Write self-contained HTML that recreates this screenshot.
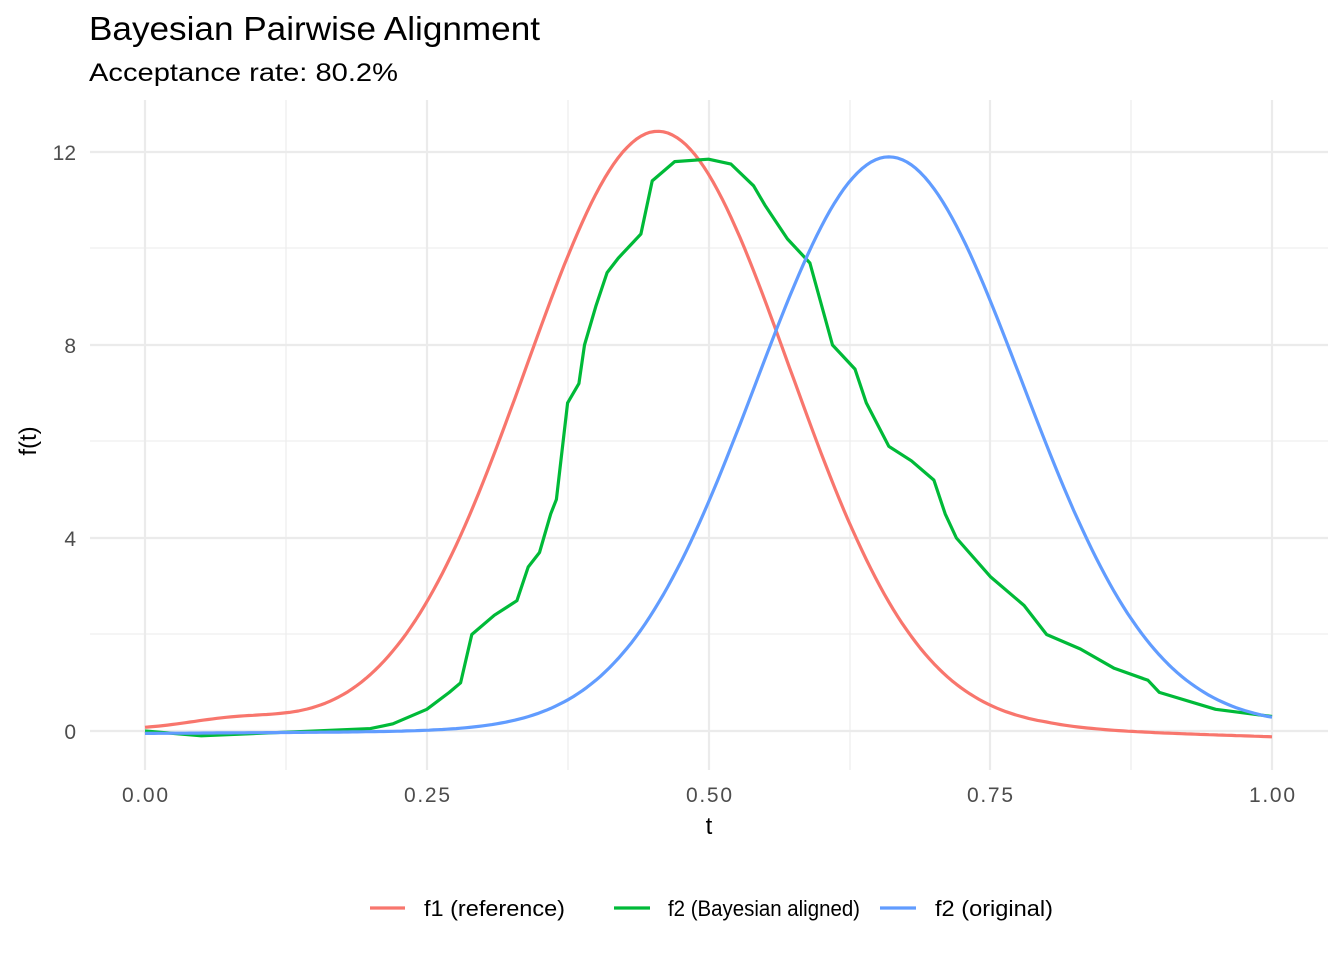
<!DOCTYPE html>
<html><head><meta charset="utf-8"><style>
html,body{margin:0;padding:0;background:#fff;}
svg{display:block;font-family:"Liberation Sans",Arial,sans-serif;}
</style></head><body>
<svg id="s" width="1344" height="960" xmlns="http://www.w3.org/2000/svg">
<rect width="1344" height="960" fill="#fff"/>
<g stroke="#ebebeb" stroke-width="1.1">
<line x1="90" x2="1328" y1="634" y2="634"/><line x1="90" x2="1328" y1="441" y2="441"/><line x1="90" x2="1328" y1="248" y2="248"/>
<line y1="100" y2="770" x1="286" x2="286"/><line y1="100" y2="770" x1="568" x2="568"/><line y1="100" y2="770" x1="850" x2="850"/><line y1="100" y2="770" x1="1131" x2="1131"/>
</g>
<g stroke="#ebebeb" stroke-width="2.2">
<line x1="90" x2="1328" y1="731" y2="731"/><line x1="90" x2="1328" y1="538" y2="538"/><line x1="90" x2="1328" y1="345" y2="345"/><line x1="90" x2="1328" y1="152" y2="152"/>
<line y1="100" y2="770" x1="145" x2="145"/><line y1="100" y2="770" x1="427" x2="427"/><line y1="100" y2="770" x1="709" x2="709"/><line y1="100" y2="770" x1="990" x2="990"/><line y1="100" y2="770" x1="1272" x2="1272"/>
</g>
<g id="curves" fill="none" stroke-width="3.2" stroke-linejoin="round"></g>
<g fill="#4d4d4d" font-size="21" text-anchor="end">
<text x="76" y="739">0</text><text x="76" y="546">4</text><text x="76" y="353">8</text><text x="76" y="160">12</text>
</g>
<g fill="#4d4d4d" font-size="21" text-anchor="middle">
<text x="145" y="802" textLength="46">0.00</text><text x="427" y="802" textLength="46">0.25</text><text x="709" y="802" textLength="46">0.50</text><text x="990" y="802" textLength="46">0.75</text><text x="1272" y="802" textLength="46">1.00</text>
</g>
<text x="709" y="834" font-size="24" text-anchor="middle">t</text>
<text transform="translate(36,441) rotate(-90)" font-size="24" text-anchor="middle">f(t)</text>
<text x="89" y="40" font-size="33" textLength="451" lengthAdjust="spacingAndGlyphs">Bayesian Pairwise Alignment</text>
<text x="89" y="81" font-size="25" textLength="309" lengthAdjust="spacingAndGlyphs">Acceptance rate: 80.2%</text>
<g font-size="22">
<line x1="370" x2="405" y1="908" y2="908" stroke="#f8766d" stroke-width="3.2"/><text x="424" y="916" textLength="141" lengthAdjust="spacingAndGlyphs">f1 (reference)</text>
<line x1="614" x2="650" y1="908" y2="908" stroke="#00ba38" stroke-width="3.2"/><text x="668" y="916" textLength="192" lengthAdjust="spacingAndGlyphs">f2 (Bayesian aligned)</text>
<line x1="880" x2="916" y1="908" y2="908" stroke="#619cff" stroke-width="3.2"/><text x="935" y="916" textLength="118" lengthAdjust="spacingAndGlyphs">f2 (original)</text>
</g>
</svg>
<script>
var X=t=>145+t*1127, Y=v=>731-v*48.25;
function add(p,c){var e=document.createElementNS("http://www.w3.org/2000/svg","polyline");e.setAttribute("points",p.join(" "));e.setAttribute("stroke",c);document.getElementById("curves").appendChild(e);}
function poly(f,c){var p=[];for(var i=0;i<=250;i++){var t=i/250;p.push(X(t).toFixed(1)+","+Y(f(t)).toFixed(1));}add(p,c);}
var red=t=>12.4*Math.exp(-Math.pow(t-0.455,2)/(2*0.0136))+0.2*Math.exp(-Math.pow(t-0.08,2)/0.004)-0.15*Math.max(0,(t-0.8)/0.2)+0.03;
var blue=t=>11.85*Math.exp(-Math.pow(t-0.66,2)/(2*0.0139))+0.15*t-0.05;
var G=[[0,0],[0.05,-0.1],[0.2,0.05],[0.22,0.15],[0.25,0.45],[0.27,0.8],[0.28,1.0],[0.29,2.0],[0.31,2.4],[0.33,2.7],[0.34,3.4],[0.35,3.7],[0.36,4.5],[0.365,4.8],[0.375,6.8],[0.385,7.2],[0.39,8],[0.40,8.8],[0.41,9.5],[0.42,9.8],[0.44,10.3],[0.45,11.4],[0.47,11.8],[0.50,11.85],[0.52,11.75],[0.54,11.3],[0.55,10.9],[0.57,10.2],[0.59,9.7],[0.61,8.0],[0.63,7.5],[0.64,6.8],[0.66,5.9],[0.68,5.6],[0.70,5.2],[0.71,4.5],[0.72,4.0],[0.75,3.2],[0.78,2.6],[0.80,2.0],[0.83,1.7],[0.86,1.3],[0.89,1.05],[0.90,0.8],[0.95,0.45],[1.0,0.3]];
poly(red,"#f8766d");
add(G.map(a=>X(a[0]).toFixed(1)+","+Y(a[1]).toFixed(1)),"#00ba38");
poly(blue,"#619cff");
</script>
</body></html>
